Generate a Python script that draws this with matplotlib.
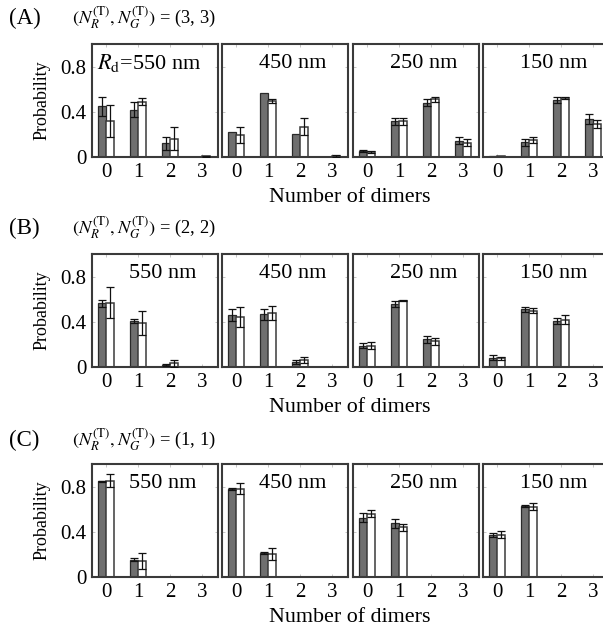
import numpy as np
import matplotlib
matplotlib.use("Agg")
import matplotlib.pyplot as plt

plt.rcParams['font.family'] = ['Liberation Serif', 'DejaVu Serif']
plt.rcParams['mathtext.fontset'] = 'stix'

dimers = [0, 1, 2, 3]
radii = ['550 nm', '450 nm', '250 nm', '150 nm']
row_labels = ['(A)', '(B)', '(C)']
row_counts = ['(3, 3)', '(2, 2)', '(1, 1)']
yticks = [0, 0.4, 0.8]
ytick_labels = ['0', '0.4', '0.8']

# Row A: (3,3)
gray_A = [[0.447, 0.418, 0.12, 0.0], [0.225, 0.566, 0.20, 0.0],
          [0.053, 0.317, 0.48, 0.145], [0.005, 0.13, 0.505, 0.335]]
gray_A_err = [[0.08, 0.065, 0.06, 0.0], [0.0, 0.0, 0.0, 0.0],
              [0.01, 0.03, 0.03, 0.03], [0.0, 0.03, 0.025, 0.045]]
white_A = [[0.32, 0.489, 0.163, 0.006], [0.196, 0.495, 0.267, 0.012],
           [0.045, 0.317, 0.51, 0.127], [0.005, 0.153, 0.522, 0.29]]
white_A_err = [[0.14, 0.03, 0.1, 0.005], [0.07, 0.015, 0.075, 0.01],
               [0.01, 0.03, 0.02, 0.03], [0.0, 0.025, 0.008, 0.035]]

# Row B: (2,2)
gray_B = [[0.563, 0.405, 0.018, 0.0], [0.46, 0.465, 0.045, 0.0],
          [0.19, 0.557, 0.246, 0.0], [0.083, 0.51, 0.406, 0.0]]
gray_B_err = [[0.03, 0.02, 0.005, 0.0], [0.05, 0.05, 0.02, 0.0],
              [0.02, 0.025, 0.03, 0.0], [0.02, 0.025, 0.025, 0.0]]
white_B = [[0.57, 0.39, 0.033, 0.0], [0.445, 0.48, 0.06, 0.0],
           [0.187, 0.587, 0.228, 0.0], [0.077, 0.50, 0.42, 0.0]]
white_B_err = [[0.14, 0.11, 0.03, 0.0], [0.09, 0.06, 0.025, 0.0],
               [0.03, 0.005, 0.03, 0.0], [0.015, 0.025, 0.04, 0.0]]

# Row C: (1,1)
gray_C = [[0.847, 0.154, 0.0, 0.0], [0.782, 0.21, 0.0, 0.0],
          [0.524, 0.474, 0.0, 0.0], [0.373, 0.628, 0.0, 0.0]]
gray_C_err = [[0.005, 0.01, 0.0, 0.0], [0.01, 0.01, 0.0, 0.0],
              [0.04, 0.04, 0.0, 0.0], [0.015, 0.01, 0.0, 0.0]]
white_C = [[0.853, 0.142, 0.0, 0.0], [0.782, 0.205, 0.0, 0.0],
           [0.56, 0.44, 0.0, 0.0], [0.373, 0.622, 0.0, 0.0]]
white_C_err = [[0.06, 0.07, 0.0, 0.0], [0.05, 0.055, 0.0, 0.0],
               [0.03, 0.03, 0.0, 0.0], [0.03, 0.03, 0.0, 0.0]]

rows = [(gray_A, gray_A_err, white_A, white_A_err),
        (gray_B, gray_B_err, white_B, white_B_err),
        (gray_C, gray_C_err, white_C, white_C_err)]

W, H = 603, 628
fig = plt.figure(figsize=(W / 100, H / 100), dpi=100)

panel_x = [92, 222, 353, 483]
panel_w = 126
row_top = [44, 254, 464]
panel_h = 113
header_y = [18, 228, 440]

bw = 0.25
x = np.array(dimers, dtype=float)
spine_col = '#3a3a3a'

for r, (g, ge, w, we) in enumerate(rows):
    for p in range(4):
        left = panel_x[p] / W
        bottom = 1 - (row_top[r] + panel_h) / H
        ax = fig.add_axes([left, bottom, panel_w / W, panel_h / H])
        gv = np.array(g[p]); gev = np.array(ge[p])
        wv = np.array(w[p]); wev = np.array(we[p])
        ax.bar(x - bw / 2, gv, width=bw, color='#6f6f6f', edgecolor='#2a2a2a', linewidth=0.9, zorder=2)
        ax.bar(x + bw / 2, wv, width=bw, color='white', edgecolor='#3a3a3a', linewidth=1.1, zorder=2)
        m = gev > 0
        if m.any():
            ax.errorbar(x[m] - bw / 2, gv[m], yerr=gev[m], fmt='none', ecolor='#111111',
                        elinewidth=0.9, capsize=2.8, capthick=0.9, zorder=3)
        m = wev > 0
        if m.any():
            ax.errorbar(x[m] + bw / 2, wv[m], yerr=wev[m], fmt='none', ecolor='#111111',
                        elinewidth=0.9, capsize=2.8, capthick=0.9, zorder=3)
        ax.set_xlim(-0.44, 3.5)
        ax.set_ylim(0, 1.0)
        ax.set_xticks(dimers)
        ax.set_xticklabels([str(d) for d in dimers], fontsize=15)
        ax.set_yticks(yticks)
        if p == 0:
            ax.set_yticklabels(ytick_labels, fontsize=15)
        else:
            ax.set_yticklabels([])
        ax.tick_params(direction='in', length=2.5, width=0.6, color='#bbbbbb',
                       top=True, right=True, pad=4)
        for s in ax.spines.values():
            s.set_color(spine_col)
            s.set_linewidth(1.5)
        if r == 0 and p == 0:
            ax.text(0.04, 0.83, r'$R_{\rm d}$=550 nm', transform=ax.transAxes,
                    fontsize=16, ha='left', va='center')
        else:
            ax.text(0.56, 0.83, radii[p], transform=ax.transAxes,
                    fontsize=16, ha='center', va='center')
        if p == 0:
            ax.set_ylabel('Probability', fontsize=13, labelpad=7)
    # header
    fig.text(9 / W, 1 - header_y[r] / H, row_labels[r], fontsize=16.5, ha='left', va='center')
    fig.text(72 / W, 1 - header_y[r] / H,
             r'$(N_R^{\rm (T)}, N_G^{\rm (T)})$ = ' + row_counts[r],
             fontsize=13.3, ha='left', va='center')
    fig.text(350 / W, 1 - (row_top[r] + 153) / H, 'Number of dimers',
             fontsize=15.8, ha='center', va='center')

fig.savefig('out.png', dpi=100)
